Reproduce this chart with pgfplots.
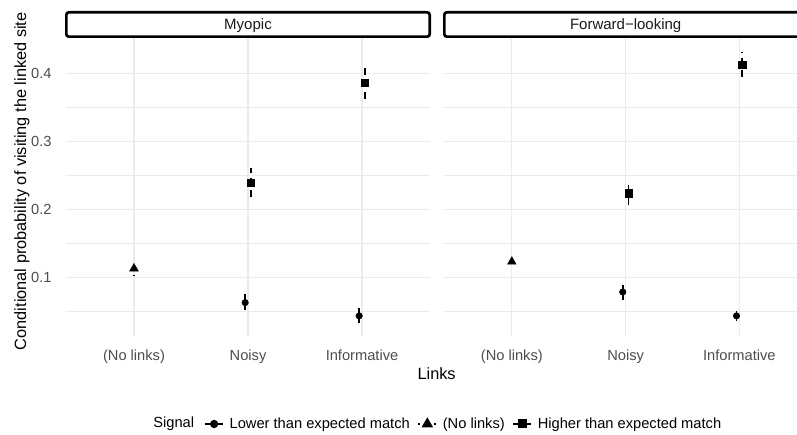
\documentclass[border=0pt]{standalone}
\usepackage{pgfplots}
\pgfplotsset{compat=1.18}
\usepackage{fontspec}
\setmainfont{Liberation Sans}
\definecolor{gridc}{HTML}{EBEBEB}
\definecolor{grey30}{HTML}{4D4D4D}
\definecolor{grey10}{HTML}{1A1A1A}
\pgfplotsset{
  panel/.style={
    scale only axis, height=178.8pt, anchor=south west,
    xmin=0.4, ymin=0.0139, ymax=0.4517,
    axis line style={draw=none}, major tick length=0pt, minor tick length=0pt,
    xtick={1,2,3}, xticklabels={(No links),Noisy,Informative},
    ytick={0.1,0.2,0.3,0.4},
    minor ytick={0.05,0.15,0.25,0.35},
    xmajorgrids, ymajorgrids, yminorgrids,
    major grid style={gridc, line width=0.75pt},
    minor grid style={gridc, line width=0.4pt},
    xticklabel style={font=\fontsize{8.8}{10}\selectfont, text=grey30, anchor=base, inner sep=0pt, yshift=-15pt},
    yticklabel style={font=\fontsize{8.8}{10}\selectfont, text=grey30, anchor=east, inner sep=0pt, xshift=-8.2pt},
    clip=false,
  },
  ebar/.style={error bars/y dir=both, error bars/y explicit, error bars/error mark=none,
    error bars/error bar style={line width=1pt, black, #1}},
  lowp/.style={only marks, mark=*, mark size=1.95pt, mark options={solid, fill=black, draw=black, line width=0.3pt}, ebar={solid}},
  nolp/.style={only marks, mark=triangle*, mark size=3pt, mark options={solid, fill=black, draw=black, line width=0.3pt}, ebar={dash pattern=on 1pt off 2.8pt}},
  higp/.style 2 args={only marks, mark=square*, mark size=2.2pt, mark options={solid, fill=black, draw=black, line width=0.3pt},
    error bars/y dir=#2, error bars/y explicit, error bars/error mark=none,
    error bars/error bar style={line width=1pt, black, dash pattern=on 4.44pt off 2.76pt, dash phase=#1}},
  keycode/.style={legend image code/.code={\draw[mark repeat=2,mark phase=2,##1] plot coordinates {(0pt,0pt) (5.4pt,0pt) (10.8pt,0pt)};}},
}
\begin{document}
\begin{tikzpicture}
\path[use as bounding box] (0,0) rectangle (478.2pt,261pt);
\clip (0,0) rectangle (478.2pt,261pt);
% Panel 1: Myopic
\begin{axis}[panel, at={(39.36pt,59.4pt)}, width=218.9pt, xmax=3.6,
  yticklabels={0.1,0.2,0.3,0.4},
  legend columns=-1,
  legend style={draw=none, fill=none, inner sep=0pt, at={(0.3793,-0.2953)}, anchor=west,
    font=\fontsize{8.8}{10}\selectfont,
    nodes={inner sep=0pt},
    /tikz/every odd column/.append style={column sep=3.4pt},
    /tikz/every even column/.append style={column sep=4.6pt}},
  legend cell align=left]
\addlegendimage{keycode, black, line width=1pt, solid, mark=*, mark size=1.95pt, mark options={solid}}
\addlegendentry{Lower than expected match}
\addlegendimage{keycode, black, line width=1pt, dash pattern=on 1pt off 2.2pt, mark=triangle*, mark size=3pt, mark options={solid}}
\addlegendentry{(No links)}
\addlegendimage{keycode, black, line width=1pt, dash pattern=on 4.44pt off 2.76pt, mark=square*, mark size=2.2pt, mark options={solid}}
\addlegendentry{Higher than expected match}
\addplot[nolp, forget plot] coordinates {(1,0.113) +=(0,0.008) -=(0,0.010)};
\addplot[lowp, forget plot] coordinates {(1.975,0.063) +=(0,0.0127) -=(0,0.011) (2.975,0.0435) +=(0,0.011) -=(0,0.0098)};
\addplot[higp={1.84pt}{plus}, forget plot] coordinates {(2.025,0.2395) +=(0,0.021) -=(0,0.022)};
\addplot[higp={2.6pt}{minus}, forget plot] coordinates {(2.025,0.2395) +=(0,0.021) -=(0,0.022)};
\addplot[higp={2.66pt}{plus}, forget plot] coordinates {(3.025,0.3855) +=(0,0.022) -=(0,0.024)};
\addplot[higp={1.78pt}{minus}, forget plot] coordinates {(3.025,0.3855) +=(0,0.022) -=(0,0.024)};
\end{axis}
% Panel 2: Forward-looking
\begin{axis}[panel, at={(266.16pt,59.4pt)}, width=212.04pt, xmax=3.507, yticklabels={}]
\addplot[nolp, forget plot] coordinates {(1,0.123) +=(0,0.008) -=(0,0.0085)};
\addplot[lowp, forget plot] coordinates {(1.975,0.0785) +=(0,0.0103) -=(0,0.0116) (2.975,0.0435) +=(0,0.0073) -=(0,0.0075)};
\addplot[higp={6.78pt}{plus}, forget plot] coordinates {(2.025,0.2235) +=(0,0.0127) -=(0,0.0165)};
\addplot[higp={4.86pt}{minus}, forget plot] coordinates {(2.025,0.2235) +=(0,0.0127) -=(0,0.0165)};
\addplot[higp={0.44pt}{plus}, forget plot] coordinates {(3.025,0.4124) +=(0,0.0194) -=(0,0.0186)};
\addplot[higp={4.0pt}{minus}, forget plot] coordinates {(3.025,0.4124) +=(0,0.0194) -=(0,0.0186)};
\end{axis}
% strips
\draw[line width=1.6pt, rounded corners=1.5pt, fill=white] (39.8pt,239pt) rectangle (257.8pt,253.6pt);
\draw[line width=1.6pt, rounded corners=1.5pt, fill=white] (266.6pt,239pt) rectangle (490pt,253.6pt);
\node[anchor=base, inner sep=0pt, text=grey10, font=\fontsize{9}{10}\selectfont] at (148.8pt,243.4pt) {Myopic};
\node[anchor=base, inner sep=0pt, text=grey10, font=\fontsize{9}{10}\selectfont] at (375.4pt,243.4pt) {Forward−looking};
% axis titles
\node[anchor=base, inner sep=0pt, font=\fontsize{9.8}{11}\selectfont] at (261.96pt,33pt) {Links};
\node[anchor=base, rotate=90, inner sep=0pt, font=\fontsize{9.8}{11}\selectfont] at (15.6pt,152.2pt) {Conditional probability of visiting the linked site};
% legend title
\node[anchor=west, inner sep=0pt, font=\fontsize{8.8}{10}\selectfont] at (91.8pt,6.6pt) {Signal};
\end{tikzpicture}
\end{document}
